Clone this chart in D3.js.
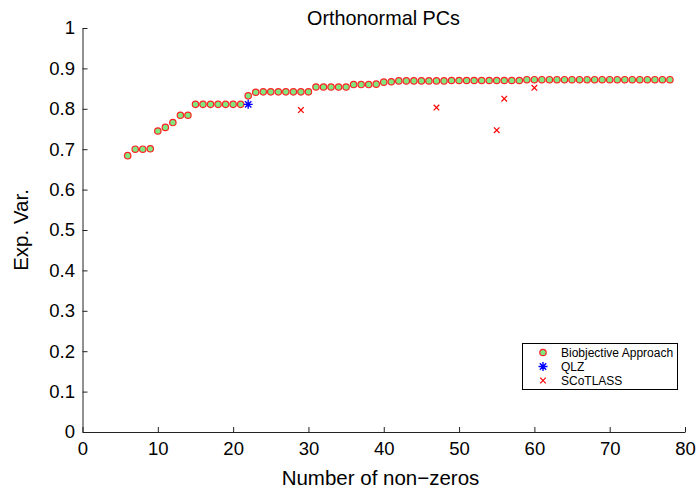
<!DOCTYPE html>
<html>
<head>
<meta charset="utf-8">
<script src="https://cdn.jsdelivr.net/npm/d3@7"></script>
<style>
  body { margin: 0; background: #fff; }
  svg { font-family: "Liberation Sans", Arial, sans-serif; }
  .axis path, .axis line { stroke: #222; }
  .axis text { font-size: 18.5px; fill: #000; }
</style>
</head>
<body>
<div id="chart"></div>
<script>
// Biobjective approach: number of non-zeros 6..78
const bioX = [6, 7, 8, 9, 10, 11, 12, 13, 14, 15, 16, 17, 18, 19, 20, 21, 22, 23, 24, 25,
  26, 27, 28, 29, 30, 31, 32, 33, 34, 35, 36, 37, 38, 39, 40, 41, 42, 43, 44, 45,
  46, 47, 48, 49, 50, 51, 52, 53, 54, 55, 56, 57, 58, 59, 60, 61, 62, 63, 64, 65,
  66, 67, 68, 69, 70, 71, 72, 73, 74, 75, 76, 77, 78];
const bioY = [0.684, 0.700, 0.700, 0.701, 0.745, 0.754, 0.766, 0.784, 0.784, 0.811,
  0.811, 0.811, 0.811, 0.811, 0.811, 0.811, 0.832, 0.841, 0.842, 0.842,
  0.842, 0.842, 0.842, 0.842, 0.842, 0.854, 0.854, 0.854, 0.854, 0.854,
  0.860, 0.860, 0.860, 0.861, 0.866, 0.867, 0.869, 0.869, 0.869, 0.869,
  0.869, 0.869, 0.869, 0.870, 0.870, 0.870, 0.870, 0.870, 0.870, 0.870,
  0.870, 0.870, 0.870, 0.872, 0.872, 0.872, 0.872, 0.872, 0.872, 0.872,
  0.872, 0.872, 0.872, 0.872, 0.872, 0.872, 0.872, 0.872, 0.872, 0.872,
  0.872, 0.872, 0.872];

const qlzX = [22];
const qlzY = [0.811];

const scotX = [29, 47, 55, 56, 60];
const scotY = [0.797, 0.803, 0.747, 0.825, 0.852];

const xTicks = [0, 10, 20, 30, 40, 50, 60, 70, 80];
const yTicks = [0, 0.1, 0.2, 0.3, 0.4, 0.5, 0.6, 0.7, 0.8, 0.9, 1];
const legendLabels = ['Biobjective Approach', 'QLZ', 'SCoTLASS'];

const width = 697, height = 488;
const margin = { top: 28, right: 12, bottom: 56, left: 82.5 };

const svg = d3.select('#chart').append('svg')
  .attr('width', width)
  .attr('height', height);

const x = d3.scaleLinear().domain([0, 80]).range([margin.left, width - margin.right]);
const y = d3.scaleLinear().domain([0, 1]).range([height - margin.bottom, margin.top]);

svg.append('g')
  .attr('class', 'axis')
  .attr('transform', `translate(0,${y(0)})`)
  .call(d3.axisBottom(x).tickValues(xTicks).tickSize(-5).tickSizeOuter(0).tickPadding(10));

svg.append('g')
  .attr('class', 'axis')
  .attr('transform', `translate(${x(0)},0)`)
  .call(d3.axisLeft(y).tickValues(yTicks).tickSize(-5).tickSizeOuter(0).tickPadding(7.5)
    .tickFormat(d => d === 0 || d === 1 ? d3.format('d')(d) : d3.format('.1f')(d)));

// title & labels
svg.append('text')
  .attr('x', 383.5).attr('y', 25)
  .attr('text-anchor', 'middle')
  .style('font-size', '19.8px')
  .text('Orthonormal PCs');

svg.append('text')
  .attr('x', 380.5).attr('y', 485)
  .attr('text-anchor', 'middle')
  .style('font-size', '20.5px')
  .text('Number of non\u2212zeros');

svg.append('text')
  .attr('transform', 'translate(28,230) rotate(-90)')
  .attr('text-anchor', 'middle')
  .style('font-size', '20.5px')
  .text('Exp. Var.');

// markers
function drawCircle(g, cx, cy) {
  g.append('circle')
    .attr('cx', cx).attr('cy', cy).attr('r', 3.2)
    .attr('fill', '#80e680')
    .attr('stroke', '#f22')
    .attr('stroke-width', 1.2);
}

function drawStar(g, cx, cy) {
  const r = 4.5, q = r * Math.SQRT1_2;
  const d = `M${cx - r},${cy}L${cx + r},${cy}M${cx},${cy - r}L${cx},${cy + r}` +
    `M${cx - q},${cy - q}L${cx + q},${cy + q}M${cx - q},${cy + q}L${cx + q},${cy - q}`;
  g.append('path').attr('d', d).attr('stroke', '#00f').attr('stroke-width', 1.4).attr('fill', 'none');
}

function drawCross(g, cx, cy) {
  const r = 2.8;
  g.append('path')
    .attr('d', `M${cx - r},${cy - r}L${cx + r},${cy + r}M${cx - r},${cy + r}L${cx + r},${cy - r}`)
    .attr('stroke', '#f00').attr('stroke-width', 1.2).attr('fill', 'none');
}

const marks = svg.append('g');
bioX.forEach((v, i) => drawCircle(marks, x(v), y(bioY[i])));
qlzX.forEach((v, i) => drawStar(marks, x(v), y(qlzY[i])));
scotX.forEach((v, i) => drawCross(marks, x(v), y(scotY[i])));

// legend
const legend = svg.append('g');
legend.append('rect')
  .attr('x', 522.5).attr('y', 343.5)
  .attr('width', 155).attr('height', 46)
  .attr('fill', '#fff').attr('stroke', '#000').attr('stroke-width', 1);

const drawers = [drawCircle, drawStar, drawCross];
legendLabels.forEach((lab, i) => {
  const cy = 352.5 + i * 14;
  drawers[i](legend, 543, cy);
  legend.append('text')
    .attr('x', 561).attr('y', cy + 4.5)
    .style('font-size', '12px')
    .text(lab);
});
</script>
</body>
</html>
